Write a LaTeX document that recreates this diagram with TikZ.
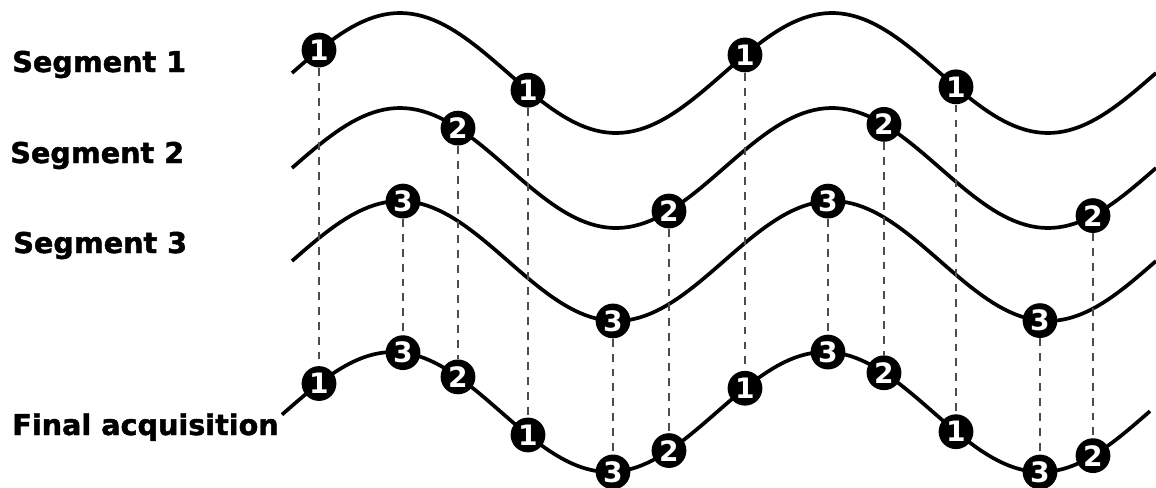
\documentclass[tikz,border=0pt]{standalone}
\usepackage{fontspec}
\setmainfont{DejaVu Sans}
\newfontfamily\heavyfont{DejaVu Sans Bold}[FakeBold=1.6]
\usepackage{tikz}
\tikzset{
  wave/.style={line width=2.1pt},
  guide/.style={black!70, line width=0.6pt, dash pattern=on 4.5pt off 4pt},
  dot/.style={circle, fill=black, text=white, inner sep=0pt, minimum size=19.8pt,
    font=\fontsize{16}{16}\selectfont\bfseries},
  title/.style={anchor=base west, inner sep=0pt, font=\fontsize{16.3}{20}\heavyfont}
}

\begin{document}
\begin{tikzpicture}[
  x=0.02cm, y=-0.02cm,
  declare function={yw(\t,\c,\s)=\c-60*sin((\t-\s)/1.2);}
]
\useasboundingbox (0,0) rectangle (1156,487);

\node[title] (seg1) at (12,72) {Segment 1};
\node[title] (seg2) at (10,163) {Segment 2};
\node[title] (seg3) at (13,253) {Segment 3};
\node[title] (fin) at (12,435) {Final acquisition};

\draw[wave] plot[domain=292:1156, samples=160] (\x,{yw(\x,73,292)});
\draw[wave] plot[domain=292:1156, samples=160] (\x,{yw(\x,168,292)});
\draw[wave] plot[domain=292:1156, samples=160] (\x,{yw(\x,261,292)});
\draw[wave] plot[domain=282:1150, samples=160] (\x,{yw(\x,412,285)});

\node[dot] (a1) at (319,{yw(319,73,292)}) {1};
\node[dot] (a2) at (528,{yw(528,73,292)}) {1};
\node[dot] (a3) at (745,{yw(745,73,292)}) {1};
\node[dot] (a4) at (956,{yw(956,73,292)}) {1};
\node[dot] (b1) at (458,{yw(458,168,292)}) {2};
\node[dot] (b2) at (669,{yw(669,168,292)}) {2};
\node[dot] (b3) at (884,{yw(884,168,292)}) {2};
\node[dot] (b4) at (1093,{yw(1093,168,292)}) {2};
\node[dot] (c1) at (403,{yw(403,261,292)}) {3};
\node[dot] (c2) at (613,{yw(613,261,292)}) {3};
\node[dot] (c3) at (828,{yw(828,261,292)}) {3};
\node[dot] (c4) at (1040,{yw(1040,261,292)}) {3};

\node[dot] (fa1) at (319,{yw(319,412,285)}) {1};
\node[dot] (fa2) at (528,{yw(528,412,285)}) {1};
\node[dot] (fa3) at (745,{yw(745,412,285)}) {1};
\node[dot] (fa4) at (956,{yw(956,412,285)}) {1};
\node[dot] (fb1) at (458,{yw(458,412,285)}) {2};
\node[dot] (fb2) at (669,{yw(669,412,285)}) {2};
\node[dot] (fb3) at (884,{yw(884,412,285)}) {2};
\node[dot] (fb4) at (1093,{yw(1093,412,285)}) {2};
\node[dot] (fc1) at (403,{yw(403,412,285)}) {3};
\node[dot] (fc2) at (613,{yw(613,412,285)}) {3};
\node[dot] (fc3) at (828,{yw(828,412,285)}) {3};
\node[dot] (fc4) at (1040,{yw(1040,412,285)}) {3};

\draw[guide] (a1) -- (fa1);
\draw[guide] (a2) -- (fa2);
\draw[guide] (a3) -- (fa3);
\draw[guide] (a4) -- (fa4);
\draw[guide] (b1) -- (fb1);
\draw[guide] (b2) -- (fb2);
\draw[guide] (b3) -- (fb3);
\draw[guide] (b4) -- (fb4);
\draw[guide] (c1) -- (fc1);
\draw[guide] (c2) -- (fc2);
\draw[guide] (c3) -- (fc3);
\draw[guide] (c4) -- (fc4);
\end{tikzpicture}
\end{document}
